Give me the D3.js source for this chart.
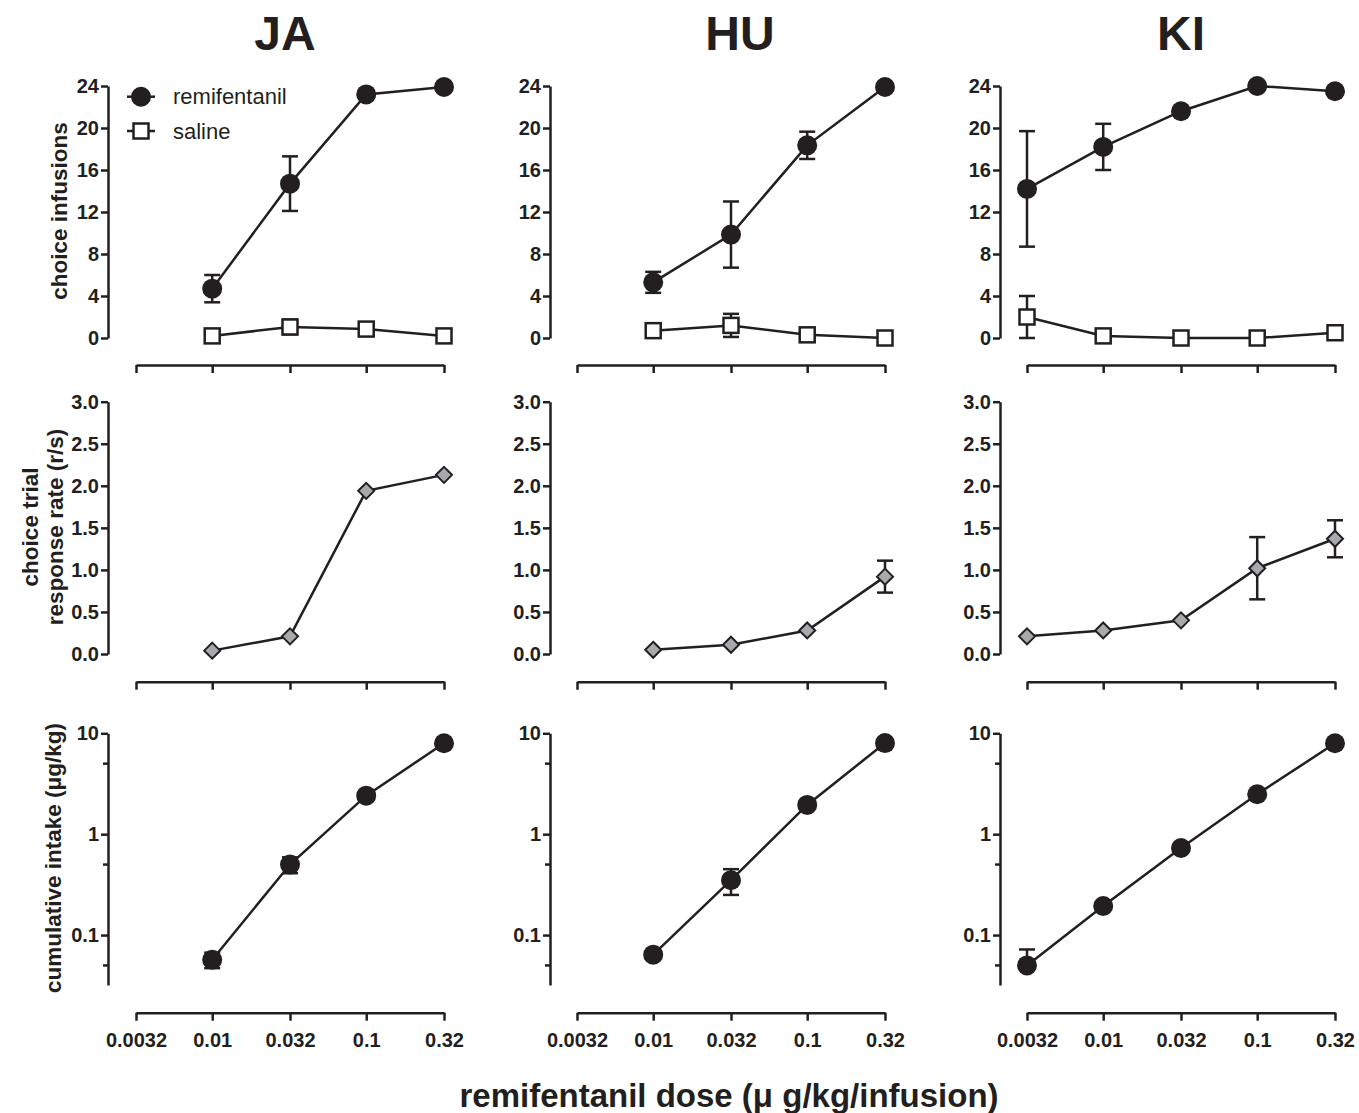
<!DOCTYPE html>
<html>
<head>
<meta charset="utf-8">
<script src="https://cdn.jsdelivr.net/npm/d3@7"></script>
<style>
  body { margin: 0; background: #fff; }
  svg { font-family: "Liberation Sans", Arial, sans-serif; }
  .axis path, .axis line { stroke: #231f20; stroke-width: 2.5; }
  .axis text { fill: #231f20; font-size: 20px; font-weight: bold; }
</style>
</head>
<body>
<div id="chart"></div>
<script>
// doses on the x axis
var doses = [0.0032, 0.01, 0.032, 0.1, 0.32];
var doseLabels = ["0.0032", "0.01", "0.032", "0.1", "0.32"];
var subjects = ["JA", "HU", "KI"];

// choice infusions - remifentanil
var remiJA = [null, 4.7, 14.7, 23.2, 23.9];
var remiJAsem = [0, 1.3, 2.6, 0, 0];
var remiHU = [null, 5.3, 9.85, 18.35, 23.9];
var remiHUsem = [0, 1.0, 3.15, 1.3, 0];
var remiKI = [14.2, 18.2, 21.6, 24.0, 23.5];
var remiKIsem = [5.5, 2.2, 0, 0, 0];

// choice infusions - saline
var salJA = [null, 0.2, 1.05, 0.85, 0.2];
var salJAsem = [0, 0, 0.7, 0, 0];
var salHU = [null, 0.7, 1.2, 0.3, 0.0];
var salHUsem = [0, 0, 1.1, 0, 0];
var salKI = [2.0, 0.2, 0.0, 0.0, 0.5];
var salKIsem = [2.0, 0, 0, 0, 0];

// choice trial response rate (r/s)
var rateJA = [null, 0.04, 0.21, 1.94, 2.13];
var rateJAsem = [0, 0, 0, 0, 0];
var rateHU = [null, 0.05, 0.11, 0.28, 0.92];
var rateHUsem = [0, 0, 0, 0, 0.19];
var rateKI = [0.21, 0.28, 0.40, 1.02, 1.37];
var rateKIsem = [0, 0, 0, 0.37, 0.22];

// cumulative intake (ug/kg)
var intakeJA = [null, 0.057, 0.50, 2.41, 7.96];
var intakeJAsem = [0, 0.01, 0.09, 0, 0];
var intakeHU = [null, 0.064, 0.35, 1.95, 8.0];
var intakeHUsem = [0, 0, 0.1, 0, 0];
var intakeKI = [0.05, 0.194, 0.73, 2.49, 7.96];
var intakeKIsem = [0.022, 0, 0, 0, 0];

var ink = "#231f20";
var grey = "#a7a9ac";

var svg = d3.select("#chart")
    .append("svg")
    .attr("width", 1359)
    .attr("height", 1113);

// layout of the 3x3 grid
var cols = [
    {axisX: 108, x0: 136, x1: 444, title: 285},
    {axisX: 550, x0: 577, x1: 885, title: 740},
    {axisX: 1000, x0: 1027, x1: 1335, title: 1181}
];
var rows = [
    {top: 86, bottom: 338, axisY: 365},
    {top: 401.7, bottom: 654, axisY: 681.7},
    {top: 733.3, bottom: 985, axisY: 1012.7}
];

var panelData = [
    [
        [{v: remiJA, e: remiJAsem, m: "circle"}, {v: salJA, e: salJAsem, m: "square"}],
        [{v: remiHU, e: remiHUsem, m: "circle"}, {v: salHU, e: salHUsem, m: "square"}],
        [{v: remiKI, e: remiKIsem, m: "circle"}, {v: salKI, e: salKIsem, m: "square"}]
    ],
    [
        [{v: rateJA, e: rateJAsem, m: "diamond"}],
        [{v: rateHU, e: rateHUsem, m: "diamond"}],
        [{v: rateKI, e: rateKIsem, m: "diamond"}]
    ],
    [
        [{v: intakeJA, e: intakeJAsem, m: "circle"}],
        [{v: intakeHU, e: intakeHUsem, m: "circle"}],
        [{v: intakeKI, e: intakeKIsem, m: "circle"}]
    ]
];

function yScaleFor(r, row) {
    if (r === 0) return d3.scaleLinear().domain([0, 24]).range([row.bottom, row.top]);
    if (r === 1) return d3.scaleLinear().domain([0, 3]).range([row.bottom, row.top]);
    return d3.scaleLog().domain([0.032, 10]).range([row.bottom, row.top]);
}

function drawMarker(g, type, x, y) {
    if (type === "circle") {
        g.append("circle").attr("cx", x).attr("cy", y).attr("r", 10).attr("fill", ink);
    } else if (type === "square") {
        g.append("rect").attr("x", x - 7.5).attr("y", y - 7.5)
            .attr("width", 15).attr("height", 15)
            .attr("fill", "#fff").attr("stroke", ink).attr("stroke-width", 2.5);
    } else {
        var s = 8;
        g.append("path")
            .attr("d", `M${x},${y - s}L${x + s},${y}L${x},${y + s}L${x - s},${y}Z`)
            .attr("fill", grey).attr("stroke", ink).attr("stroke-width", 2).attr("stroke-linejoin", "miter");
    }
}

rows.forEach(function(row, r) {
    cols.forEach(function(col, c) {
        var x = d3.scaleLog().domain([0.0032, 0.32]).range([col.x0, col.x1]);
        var y = yScaleFor(r, row);

        // x axis
        var xAxis = d3.axisBottom(x).tickValues(doses).tickSizeInner(8).tickSizeOuter(0).tickPadding(12)
            .tickFormat(function(d, i) { return r === 2 ? doseLabels[i] : ""; });
        svg.append("g").attr("class", "axis")
            .attr("transform", `translate(0, ${row.axisY})`)
            .call(xAxis);

        // y axis
        var yAxis;
        if (r === 0) {
            yAxis = d3.axisLeft(y).tickValues([0, 4, 8, 12, 16, 20, 24]).tickFormat(d3.format("d"));
        } else if (r === 1) {
            yAxis = d3.axisLeft(y).tickValues([0, 0.5, 1, 1.5, 2, 2.5, 3]).tickFormat(d3.format(".1f"));
        } else {
            yAxis = d3.axisLeft(y).tickValues([0.1, 1, 10]).tickFormat(d3.format("~g"));
        }
        yAxis.tickSizeInner(7).tickSizeOuter(0).tickPadding(2);
        var yg = svg.append("g").attr("class", "axis")
            .attr("transform", `translate(${col.axisX}, 0)`)
            .call(yAxis);
        if (r === 2) {
            // minor ticks
            yg.selectAll(".minor").data([0.05, 0.5, 5]).enter()
                .append("line").attr("class", "minor")
                .attr("x1", -5).attr("x2", 0)
                .attr("y1", d => y(d)).attr("y2", d => y(d));
        }

        var g = svg.append("g");
        panelData[r][c].forEach(function(series) {
            var pts = [];
            series.v.forEach(function(v, i) {
                if (v !== null) pts.push({x: doses[i], v: v, e: series.e[i]});
            });

            // connecting line
            g.append("path")
                .attr("d", d3.line().x(d => x(d.x)).y(d => y(d.v))(pts))
                .attr("fill", "none").attr("stroke", ink).attr("stroke-width", 2.5);

            // error bars
            pts.forEach(function(p) {
                if (!p.e) return;
                var px = x(p.x);
                var lo = p.v - p.e;
                var yTop = y(p.v + p.e);
                var hasLow = lo > y.domain()[0] || (r !== 2 && lo >= 0);
                var yBot = hasLow ? y(Math.max(lo, y.domain()[0])) : y(p.v);
                g.append("line").attr("x1", px).attr("x2", px).attr("y1", yTop).attr("y2", yBot)
                    .attr("stroke", ink).attr("stroke-width", 2.5);
                g.append("line").attr("x1", px - 8).attr("x2", px + 8).attr("y1", yTop).attr("y2", yTop)
                    .attr("stroke", ink).attr("stroke-width", 2.5);
                if (hasLow) {
                    g.append("line").attr("x1", px - 8).attr("x2", px + 8).attr("y1", yBot).attr("y2", yBot)
                        .attr("stroke", ink).attr("stroke-width", 2.5);
                }
            });

            // markers
            pts.forEach(function(p) {
                drawMarker(g, series.m, x(p.x), y(p.v));
            });
        });
    });
});

// subject titles
svg.selectAll(".title")
    .data(subjects)
    .enter()
    .append("text")
    .attr("class", "title")
    .attr("x", (d, i) => cols[i].title)
    .attr("y", 50)
    .attr("text-anchor", "middle")
    .attr("font-size", "48px")
    .attr("font-weight", "bold")
    .attr("fill", ink)
    .text(d => d);

// legend
var legendItems = [{label: "remifentanil", m: "circle", y: 96.7}, {label: "saline", m: "square", y: 131}];
legendItems.forEach(function(item) {
    svg.append("line").attr("x1", 127).attr("x2", 155).attr("y1", item.y).attr("y2", item.y)
        .attr("stroke", ink).attr("stroke-width", 2.5);
    drawMarker(svg, item.m, 141, item.y);
    svg.append("text").attr("x", 173).attr("y", item.y).attr("dy", "0.35em")
        .attr("font-size", "22px").attr("fill", ink).text(item.label);
});

// y axis labels
function yLabel(lines, cx, cy) {
    lines.forEach(function(txt, i) {
        svg.append("text")
            .attr("transform", `translate(${cx[i]}, ${cy}) rotate(-90)`)
            .attr("text-anchor", "middle")
            .attr("font-size", "22.5px")
            .attr("font-weight", "bold")
            .attr("fill", ink)
            .text(txt);
    });
}
yLabel(["choice infusions"], [67], 211);
yLabel(["choice trial", "response rate (r/s)"], [38, 63], 527);
yLabel(["cumulative intake (\u03bcg/kg)"], [61], 858);

// x axis label
svg.append("text")
    .attr("x", 729)
    .attr("y", 1107)
    .attr("text-anchor", "middle")
    .attr("font-size", "33px")
    .attr("font-weight", "bold")
    .attr("fill", ink)
    .text("remifentanil dose (\u03bc g/kg/infusion)");
</script>
</body>
</html>
